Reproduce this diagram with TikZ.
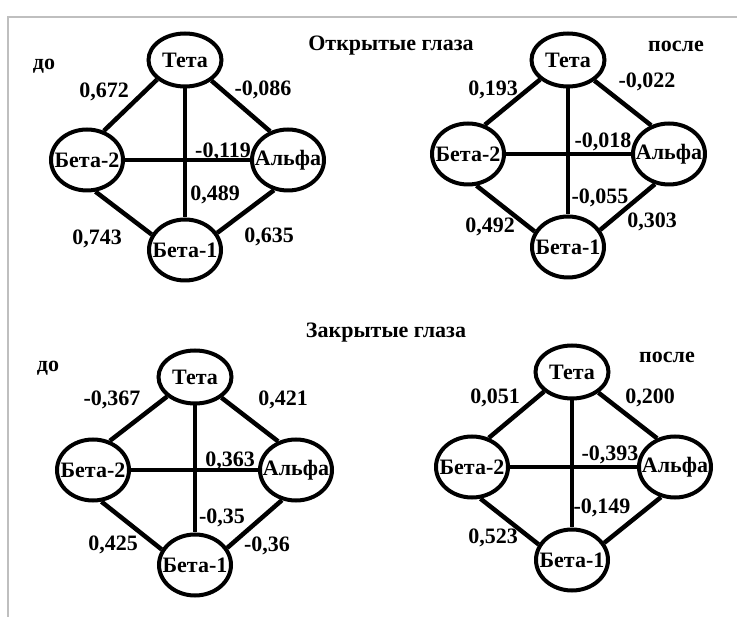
\documentclass[tikz,border=0pt]{standalone}
\usepackage{fontspec}
\setmainfont{Liberation Serif}
\usetikzlibrary{shapes.geometric}
\newcommand\nlab[1]{\makebox[0pt][c]{#1}}
\begin{document}
\begin{tikzpicture}[x=1pt,y=-1pt,
  txt/.style={font=\fontsize{22}{26}\selectfont\bfseries},
  nd/.style={ellipse, draw, line width=4pt, minimum width=72pt, minimum height=61pt, inner sep=0pt, txt},
  ndt/.style={nd, minimum width=73pt, minimum height=53pt},
  lbl/.style={txt, inner sep=0pt},
  conn/.style={line width=4.5pt}]
\useasboundingbox (0,0) rectangle (737,617);
\draw[black!25, line width=1.5pt] (8,617) -- (8,17) -- (737,17);

% titles
\node[lbl] (title1) at (391,46) {Открытые глаза};
\node[lbl] (title2) at (386,333) {Закрытые глаза};
\node[lbl] (do1) at (44,66) {до};
\node[lbl] (posle1) at (676,46) {после};
\node[lbl] (do2) at (48,368) {до};
\node[lbl] (posle2) at (667,357) {после};

% graph 1 (top left)
\node[ndt] (t1) at (185,60) {\nlab{Тета}};
\node[nd] (bb1) at (87,160) {\nlab{Бета-2}};
\node[nd] (a1) at (288,160) {\nlab{Альфа}};
\node[nd] (b1) at (185,250) {\nlab{Бета-1}};
\draw[conn] (t1.215) -- (bb1.60);
\draw[conn] (t1.322) -- (a1.122);
\draw[conn] (bb1.285) -- (b1.155);
\draw[conn] (a1.245) -- (b1.28);
\draw[conn] (t1) -- (b1);
\draw[conn] (bb1) -- (a1);
\node[lbl] at (104,92) {0,672};
\node[lbl] at (263,90) {-0,086};
\node[lbl] at (223,152) {-0,119};
\node[lbl] at (215,195) {0,489};
\node[lbl] at (97,239) {0,743};
\node[lbl] at (269,237) {0,635};

% graph 2 (top right)
\node[ndt] (t2) at (568,60) {\nlab{Тета}};
\node[nd] (bb2) at (468,154) {\nlab{Бета-2}};
\node[nd] (a2) at (669,154) {\nlab{Альфа}};
\node[nd] (b2) at (568,247) {\nlab{Бета-1}};
\draw[conn] (t2.215) -- (bb2.60);
\draw[conn] (t2.322) -- (a2.122);
\draw[conn] (bb2.285) -- (b2.155);
\draw[conn] (a2.245) -- (b2.28);
\draw[conn] (t2) -- (b2);
\draw[conn] (bb2) -- (a2);
\node[lbl] at (493,90) {0,193};
\node[lbl] at (647,82) {-0,022};
\node[lbl] at (603,142) {-0,018};
\node[lbl] at (600,198) {-0,055};
\node[lbl] at (490,227) {0,492};
\node[lbl] at (652,222) {0,303};

% graph 3 (bottom left)
\node[ndt] (t3) at (195,377) {\nlab{Тета}};
\node[nd] (bb3) at (93,470) {\nlab{Бета-2}};
\node[nd] (a3) at (296,470) {\nlab{Альфа}};
\node[nd] (b3) at (195,565) {\nlab{Бета-1}};
\draw[conn] (t3.215) -- (bb3.60);
\draw[conn] (t3.322) -- (a3.122);
\draw[conn] (bb3.285) -- (b3.155);
\draw[conn] (a3.245) -- (b3.28);
\draw[conn] (t3) -- (b3);
\draw[conn] (bb3) -- (a3);
\node[lbl] at (112,400) {-0,367};
\node[lbl] at (283,400) {0,421};
\node[lbl] at (230,461) {0,363};
\node[lbl] at (222,518) {-0,35};
\node[lbl] at (113,545) {0,425};
\node[lbl] at (267,546) {-0,36};

% graph 4 (bottom right)
\node[ndt] (t4) at (572,372) {\nlab{Тета}};
\node[nd] (bb4) at (472,467) {\nlab{Бета-2}};
\node[nd] (a4) at (675,467) {\nlab{Альфа}};
\node[nd] (b4) at (572,560) {\nlab{Бета-1}};
\draw[conn] (t4.215) -- (bb4.60);
\draw[conn] (t4.322) -- (a4.122);
\draw[conn] (bb4.285) -- (b4.155);
\draw[conn] (a4.245) -- (b4.28);
\draw[conn] (t4) -- (b4);
\draw[conn] (bb4) -- (a4);
\node[lbl] at (495,398) {0,051};
\node[lbl] at (650,398) {0,200};
\node[lbl] at (610,455) {-0,393};
\node[lbl] at (602,508) {-0,149};
\node[lbl] at (493,538) {0,523};
\end{tikzpicture}
\end{document}
